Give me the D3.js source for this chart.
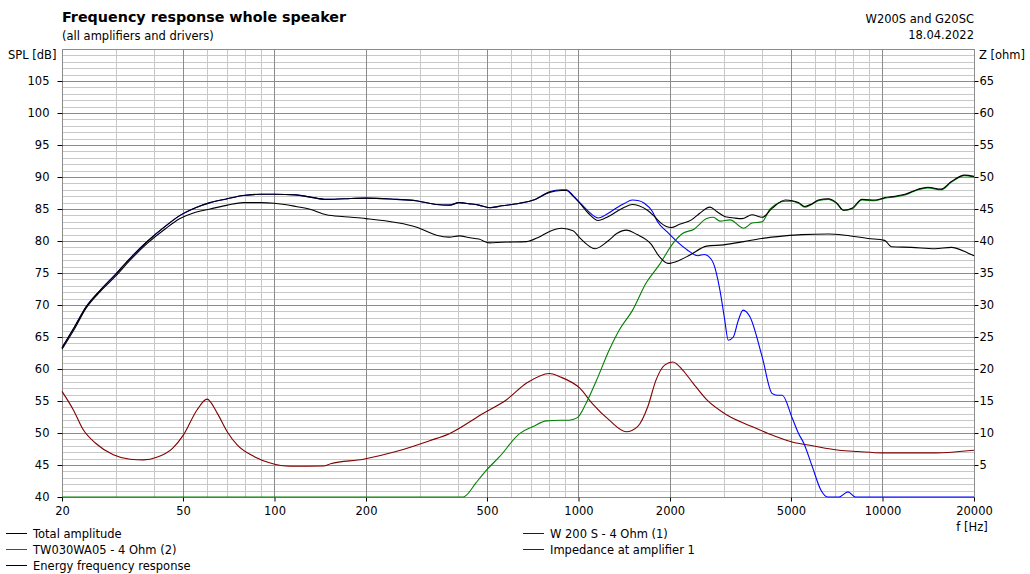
<!DOCTYPE html>
<html><head><meta charset="utf-8">
<script src="https://cdn.jsdelivr.net/npm/d3@7"></script>
<style>
html,body{margin:0;padding:0;background:#fff;}
svg{display:block;font-family:"DejaVu Sans",sans-serif;}
</style></head>
<body>
<svg id="chart" width="1030" height="574"></svg>
<script>
// ---------- DATA ----------
const title = "Frequency response whole speaker";
const subtitle = "(all amplifiers and drivers)";
const infoLines = ["W200S and G20SC", "18.04.2022"];
const xTicks = [20, 50, 100, 200, 500, 1000, 2000, 5000, 10000, 20000];
const xMinorGrid = [30,40,60,70,80,90,300,400,600,700,800,900,3000,4000,6000,7000,8000,9000];
const yTicksLeft = [40,45,50,55,60,65,70,75,80,85,90,95,100,105];
const yTicksRight = [5,10,15,20,25,30,35,40,45,50,55,60,65];

const totalFreq = [20,22,24,26.7,30,33.5,38.3,44,48.9,55,61.4,70,78.9,90,100,117.6,130,148,170,200,251,292,341,376,405,440,470,510,560,640,720,803,880,912,960,1010,1080,1160,1250,1337,1420,1502,1580,1686,1780,1868,2018,2150,2353,2500,2707,2850,3040,3250,3450,3720,4020,4330,4790,5050,5290,5560,5850,6150,6640,7050,7450,7930,8560,9450,10200,11000,11860,13100,14100,15600,16850,18600,20000];
const totalSPL = [63.3,66.6,69.7,72.3,74.8,77.3,80.0,82.4,84.0,85.2,86.0,86.6,87.1,87.3,87.3,87.2,86.9,86.5,86.6,86.7,86.5,86.3,85.7,85.6,86.0,85.8,85.6,85.2,85.5,85.9,86.5,87.6,87.9,87.9,87.0,85.9,84.3,83.2,83.8,84.6,85.3,85.7,85.5,84.8,83.8,82.8,82.1,82.6,83.3,84.3,85.3,84.6,83.8,83.6,83.5,84.1,83.7,85.1,86.4,86.3,86.0,85.4,85.8,86.4,86.6,86.0,84.8,85.1,86.5,86.4,86.8,87.0,87.3,88.1,88.4,88.1,89.3,90.3,90.1];

const tweeterFreq = [20,418,428,460,498,550,640,708,784,870,930,992,1058,1141,1263,1362,1507,1667,1846,2043,2205,2390,2640,2780,2920,3150,3500,3720,4020,4270,4790,5050,5290,5560,5850,6150,6640,7050,7450,7930,8560,9450,10200,11000,11860,13100,14100,15600,16850,18600,20000];
const tweeterSPL = [40,40,40.3,42.2,44.2,46.3,49.9,51.0,51.9,52.0,52.0,52.4,54.6,58.0,63.0,66.1,69.2,73.4,76.3,79.6,81.2,81.8,83.5,83.7,83.1,83.3,82.0,82.8,83.0,85.0,86.2,86.2,85.9,85.3,85.7,86.3,86.5,85.9,84.8,85.0,86.4,86.3,86.7,86.9,87.2,88.0,88.3,88.0,89.2,90.2,90.0];

const energyFreq = [20,22,24,26.7,30,33.5,38.3,44,48.9,55,61.4,70,78.9,90,100,117.6,130,148,170,200,251,292,341,376,405,440,470,510,560,675,740,803,880,960,1010,1134,1250,1340,1436,1560,1727,1850,1971,2150,2324,2641,3001,3497,4000,4760,5412,6650,7550,8950,10160,10700,12450,14880,16850,19140,20000];
const energySPL = [63.1,66.3,69.5,72.1,74.5,77.0,79.7,82.0,83.5,84.5,85.0,85.6,86.0,86.0,85.9,85.4,85.0,84.1,83.8,83.5,82.9,82.2,80.9,80.6,80.8,80.5,80.3,79.7,79.8,79.9,80.6,81.5,82.0,81.6,80.5,78.8,80.0,81.2,81.7,81.0,79.6,77.5,76.5,77.0,77.8,79.2,79.4,79.9,80.4,80.8,81.0,81.1,80.9,80.4,80.1,79.1,79.0,78.8,79.0,78.1,77.7];

const wooferFreq = [20,22,24,26.7,30,33.5,38.3,44,48.9,55,61.4,70,78.9,90,100,117.6,130,148,170,200,251,292,341,376,405,440,470,510,560,640,720,803,880,912,960,1010,1080,1160,1250,1337,1420,1502,1580,1647,1750,1820,1950,2110,2280,2470,2590,2680,2780,2920,3020,3110,3230,3350,3480,3660,4020,4330,4500,4680,5050,5300,5510,5880,6270,6600,7200,7700,8140,20000];
const wooferSPL = [63.3,66.6,69.7,72.3,74.8,77.3,80.0,82.4,84.0,85.2,86.0,86.6,87.1,87.3,87.3,87.2,86.9,86.5,86.6,86.7,86.5,86.3,85.7,85.6,86.0,85.8,85.6,85.2,85.5,85.9,86.5,87.7,88.0,88.0,87.1,86.0,84.6,83.6,84.3,85.2,85.9,86.4,86.3,85.9,84.6,83.0,81.5,79.9,78.6,77.7,77.9,77.6,76.5,72.3,68.0,64.5,65.0,67.5,69.2,68.2,61.9,56.2,55.9,55.9,52.3,49.9,48.4,44.7,41.1,40,40,40.8,40,40];

const impFreq = [20,21.8,23.5,25.8,29.5,33.5,37.1,41,46.2,50.2,55.6,60,64.8,69.9,75.5,85.9,96.9,113,145,153,196,251,324,376,487,580,675,803,867,1010,1111,1263,1436,1565,1690,1800,1920,2043,2205,2380,2640,3080,3720,4220,5040,5880,7200,8300,10000,15000,20000];
const impOhm = [16.5,13.6,10.5,8.4,6.6,5.9,5.8,6.2,7.6,9.7,13.6,15.3,13.1,10.2,8.1,6.3,5.3,4.8,4.85,5.2,5.9,7.1,8.8,9.9,13.1,15.2,17.8,19.3,18.8,17.0,14.6,12.0,10.2,11.0,14.1,18.3,20.6,21.1,19.8,17.8,15.2,12.8,11.0,9.9,8.6,8.0,7.3,7.1,6.9,6.9,7.3];

const legendLeft = [
  {name:"Total amplitude", color:"#000000"},
  {name:"TW030WA05 - 4 Ohm (2)", color:"#008000"},
  {name:"Energy frequency response", color:"#000000"}
];
const legendRight = [
  {name:"W 200 S - 4 Ohm (1)", color:"#0000ff"},
  {name:"Impedance at amplifier 1", color:"#800000"}
];

// ---------- LAYOUT ----------
const svg = d3.select("#chart");
const L = 62, R = 974, T = 49, B = 497;
const FS = "11.5px";
const x = d3.scaleLog().domain([20, 20000]).range([L, R]);
const y = d3.scaleLinear().domain([40, 110]).range([B, T]).clamp(true);
const yR = d3.scaleLinear().domain([0, 70]).range([B, T]).clamp(true);

const minorCol = "#c8c8c8", majorCol = "#8c8c8c";
const g = svg.append("g");

const hMinor = d3.range(41, 110).filter(v => v % 5 !== 0);
g.selectAll(".hmin").data(hMinor).enter().append("line")
  .attr("x1", L).attr("x2", R).attr("y1", d => Math.round(y(d)) + 0.5).attr("y2", d => Math.round(y(d)) + 0.5)
  .attr("stroke", minorCol).attr("stroke-width", 1);
g.selectAll(".vmin").data(xMinorGrid).enter().append("line")
  .attr("y1", T).attr("y2", B).attr("x1", d => Math.round(x(d)) + 0.5).attr("x2", d => Math.round(x(d)) + 0.5)
  .attr("stroke", minorCol).attr("stroke-width", 1);
const hMajor = d3.range(45, 110, 5);
g.selectAll(".hmaj").data(hMajor).enter().append("line")
  .attr("x1", L).attr("x2", R).attr("y1", d => Math.round(y(d)) + 0.5).attr("y2", d => Math.round(y(d)) + 0.5)
  .attr("stroke", majorCol).attr("stroke-width", 1);
g.selectAll(".vmaj").data(xTicks.slice(1, -1)).enter().append("line")
  .attr("y1", T).attr("y2", B).attr("x1", d => Math.round(x(d)) + 0.5).attr("x2", d => Math.round(x(d)) + 0.5)
  .attr("stroke", majorCol).attr("stroke-width", 1);
g.append("rect").attr("x", L + 0.5).attr("y", T + 0.5).attr("width", R - L).attr("height", B - T)
  .attr("fill", "none").attr("stroke", majorCol);

const fmt = d => String(d);
const axL = svg.append("g").attr("transform", `translate(${L + 0.5},0)`)
  .call(d3.axisLeft(y).tickValues(yTicksLeft).tickSize(5).tickPadding(8).tickFormat(fmt));
const axR = svg.append("g").attr("transform", `translate(${R + 0.5},0)`)
  .call(d3.axisRight(yR).tickValues(yTicksRight).tickSize(4).tickPadding(1).tickFormat(fmt));
const axB = svg.append("g").attr("transform", `translate(0,${B + 0.5})`)
  .call(d3.axisBottom(x).tickValues(xTicks).tickSize(4).tickPadding(5).tickFormat(fmt));
[axL, axR, axB].forEach(a => {
  a.select(".domain").remove();
  a.selectAll("line").attr("stroke", "#000");
  a.selectAll("text").attr("fill", "#000").style("font-size", FS).style("font-family", "DejaVu Sans, sans-serif");
});

const line = (fs, vs, sc) => d3.line().x((d, i) => x(fs[i])).y((d, i) => sc(vs[i])).curve(d3.curveMonotoneX)(vs);
const plot = svg.append("g");
function addCurve(fs, vs, sc, color) {
  plot.append("path").attr("d", line(fs, vs, sc)).attr("fill", "none")
    .attr("stroke", color).attr("stroke-width", 1.1);
}
addCurve(impFreq, impOhm, yR, "#800000");
addCurve(wooferFreq, wooferSPL, y, "#0000ff");
addCurve(tweeterFreq, tweeterSPL, y, "#008000");
addCurve(energyFreq, energySPL, y, "#000000");
addCurve(totalFreq, totalSPL, y, "#000000");

svg.append("text").attr("x", L).attr("y", 22).text(title)
  .style("font-weight", "bold").style("font-size", "14.3px").attr("fill", "#000");
svg.append("text").attr("x", L).attr("y", 40).text(subtitle)
  .style("font-size", FS).attr("fill", "#000");
infoLines.forEach((t, i) => svg.append("text").attr("x", R).attr("y", 23 + i * 16).attr("text-anchor", "end")
  .text(t).style("font-size", FS).attr("fill", "#000"));
svg.append("text").attr("x", 8).attr("y", 59).text("SPL [dB]").style("font-size", FS).attr("fill", "#000");
svg.append("text").attr("x", 979).attr("y", 59).text("Z [ohm]").style("font-size", FS).attr("fill", "#000");
svg.append("text").attr("x", 972).attr("y", 531).attr("text-anchor", "middle").text("f [Hz]").style("font-size", FS).attr("fill", "#000");

const lg = svg.append("g");
legendLeft.forEach((d, i) => {
  const yy = 533 + i * 16;
  lg.append("line").attr("x1", 6).attr("x2", 27).attr("y1", yy + 0.5).attr("y2", yy + 0.5).attr("stroke", d.color);
  lg.append("text").attr("x", 33).attr("y", yy + 4.5).text(d.name).style("font-size", FS).attr("fill", "#000");
});
legendRight.forEach((d, i) => {
  const yy = 533 + i * 16;
  lg.append("line").attr("x1", 523).attr("x2", 544).attr("y1", yy + 0.5).attr("y2", yy + 0.5).attr("stroke", d.color);
  lg.append("text").attr("x", 550).attr("y", yy + 4.5).text(d.name).style("font-size", FS).attr("fill", "#000");
});
</script>
</body></html>
